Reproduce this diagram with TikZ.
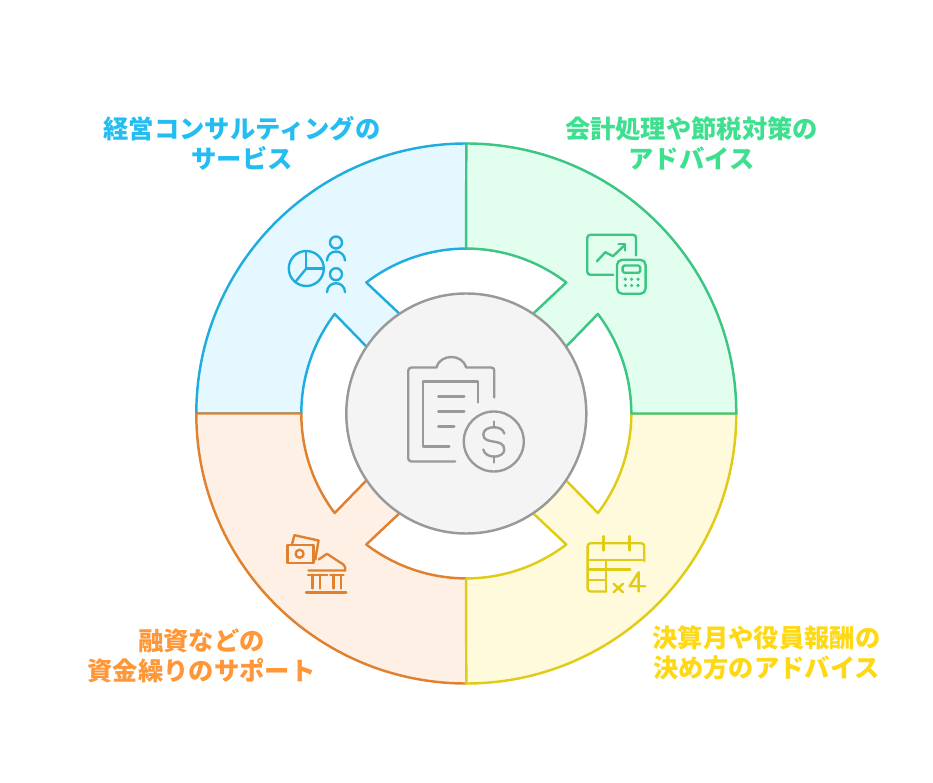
\documentclass[tikz,border=0pt]{standalone}
\usepackage{fontspec}
\newfontfamily\cjk{Noto Sans CJK JP}
\definecolor{bluel}{HTML}{1FADDF}
\definecolor{bluef}{HTML}{E6F8FF}
\definecolor{bluet}{HTML}{24BDF1}
\definecolor{greenl}{HTML}{3CC583}
\definecolor{greenf}{HTML}{E1FEEF}
\definecolor{greent}{HTML}{3EE08F}
\definecolor{yellowl}{HTML}{E0CB15}
\definecolor{yellowf}{HTML}{FFFADB}
\definecolor{yellowt}{HTML}{FFD814}
\definecolor{orangel}{HTML}{E0812F}
\definecolor{orangef}{HTML}{FEF0E5}
\definecolor{oranget}{HTML}{FF9738}
\definecolor{grayl}{HTML}{999999}
\definecolor{grayf}{HTML}{F4F4F4}
\tikzset{
    rim/.style={line width=1.4pt,line join=round},
    icon/.style={line width=1.35pt,line cap=round,line join=round},
    caption/.style={align=center,font={\cjk\bfseries\fontsize{14.4}{17.07}\selectfont}}
}
\newcommand{\sector}[4]{
    \begin{scope}[shift={(466.3,413.5)},xscale=#3,yscale=#4]
        \filldraw[rim,draw=#1,fill=#2] (0,-270) arc[start angle=270,end angle=180,radius=270] -- (-165,0)
            arc[start angle=180,end angle=217.1,radius=165] -- (-99,-66) -- (-66,-99) -- (-100,-131)
            arc[start angle=232.6,end angle=270,radius=165] -- cycle;
    \end{scope}
}
\begin{document}
\begin{tikzpicture}[x=0.02cm,y=-0.02cm]
    \useasboundingbox (0,0) rectangle (933,783);
    \sector{bluel}{bluef}{1}{1}
    \sector{orangel}{orangef}{1}{-1}
    \sector{yellowl}{yellowf}{-1}{-1}
    \sector{greenl}{greenf}{-1}{1}
    \filldraw[line width=1.4pt,draw=grayl,fill=grayf] (466.3,413.5) circle[radius=120];
    % money
    \begin{scope}[icon,draw=grayl,shift={(0.3,0.5)}]
        \draw (455,461) -- (411,461) arc[start angle=90,end angle=180,radius=3] -- (408,370)
            arc[start angle=180,end angle=270,radius=3] -- (436,367)
            .. controls (440,353) and (462,353) .. (466,367) -- (491,367)
            arc[start angle=270,end angle=360,radius=3] -- (494,397);
        \draw (449,446) -- (423,446) -- (423,381) -- (478,381) -- (478,402);
        \draw (438,396) -- (464,396);
        \draw (438,411) -- (464,411);
        \draw (438,426) -- (454,426);
        \draw (493.5,441) circle[radius=30];
        \draw (504,433) .. controls (502,424) and (483,425) .. (483,434)
            .. controls (483,445) and (504,437) .. (504,449)
            .. controls (504,458) and (485,459) .. (483,449);
        \draw (493.5,421) -- (493.5,427);
        \draw (493.5,456) -- (493.5,462);
    \end{scope}
    % consulting
    \begin{scope}[icon,draw=bluel,shift={(0.3,0.5)}]
        \draw (306,268) circle[radius=17.5];
        \draw (306,250.5) -- (306,268) -- (323.5,268);
        \draw (306,268) -- (295,281.5);
        \draw (335.7,242) circle[radius=6];
        \draw (326.7,260) arc[start angle=180,end angle=360,radius=9];
        \draw (335.7,273.7) circle[radius=6];
        \draw (326.7,291.7) arc[start angle=180,end angle=360,radius=9];
    \end{scope}
    % accounting
    \begin{scope}[icon,draw=greenl,shift={(0.3,0.5)}]
        \draw (613,274.3) -- (590,274.3) arc[start angle=90,end angle=180,radius=3] -- (587,237.3)
            arc[start angle=180,end angle=270,radius=3] -- (632.7,234.3)
            arc[start angle=270,end angle=360,radius=3] -- (635.7,255);
        \draw[rounded corners=3] (616.7,259.3) rectangle (645.3,293.3);
        \draw[rounded corners=1] (622.3,265) rectangle (640,272.3);
        \draw (596.7,260.7) -- (605,251.7) -- (612.7,255.7) -- (625,244);
        \draw (618.3,243.5) -- (625,243.5) -- (625,250);
        \foreach \px in {625,631.3,637.7} {
            \foreach \py in {278.7,285} {
                \fill[greenl] (\px,\py) circle[radius=1.8];
            }
        }
    \end{scope}
    % calendar
    \begin{scope}[icon,draw=yellowl,shift={(0.3,0.5)}]
        \draw (606,591) -- (590.3,591) arc[start angle=90,end angle=180,radius=3] -- (587.3,545.7)
            arc[start angle=180,end angle=270,radius=3] -- (641,542.7)
            arc[start angle=270,end angle=360,radius=3] -- (644,560.7);
        \draw (603.3,535.7) -- (603.3,550);
        \draw (629.3,535.7) -- (629.3,550);
        \draw (587.3,559.3) -- (644,559.3);
        \draw (587.3,569) -- (630,569);
        \draw (587.3,579.3) -- (606,579.3);
        \draw (606,559.3) -- (606,591);
        \draw (613.3,583.3) -- (622.7,591.7);
        \draw (622.7,583.3) -- (613.3,591.7);
        \draw (638.3,591) -- (638.3,571.7) -- (629.3,585.7) -- (645,585.7);
    \end{scope}
    % bank
    \begin{scope}[icon,draw=orangel,shift={(0.3,0.5)}]
        \draw (287.3,544.3) rectangle (313.3,562.3);
        \draw (299.3,553.3) circle[radius=4];
        \draw (291.7,544) -- (294,534.7) -- (318.3,540) -- (315,559);
        \draw (318.3,559) -- (326.7,553.3) -- (343,564) .. controls (345,565.5) and (345,567) .. (345,570) -- (308.3,570);
        \draw (307.7,574.3) -- (327,574.3);
        \draw (330,574.3) -- (343.3,574.3);
        \foreach \px in {312.3,320,333.3,340.7} {
            \draw (\px,574.3) -- (\px,588);
        }
        \draw (305.7,592) -- (346,592);
    \end{scope}
    \node[caption,text=bluet] (consult) at (242,143) {経営コンサルティングの\\サービス};
    \node[caption,text=greent] (account) at (691.5,143.5) {会計処理や節税対策の\\アドバイス};
    \node[caption,text=yellowt] (closing) at (766.5,652.5) {決算月や役員報酬の\\決め方のアドバイス};
    \node[caption,text=oranget] (finance) at (201.5,655.5) {融資などの\\資金繰りのサポート};
\end{tikzpicture}
\end{document}
